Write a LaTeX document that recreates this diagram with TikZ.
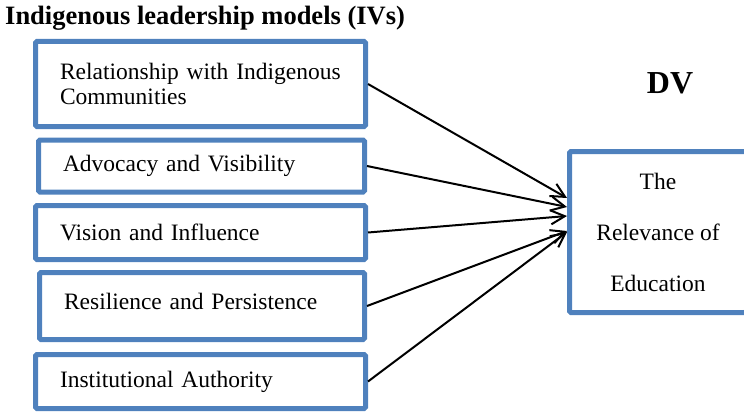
\documentclass[tikz,border=0pt]{standalone}
\usepackage{fontspec}
\setmainfont{Liberation Serif}
\usetikzlibrary{arrows.meta,calc}
\definecolor{boxblue}{HTML}{4F81BD}
\begin{document}
\begin{tikzpicture}[x=1pt,y=1pt,
  ivbox/.style={draw=boxblue,line width=5pt,rectangle,rounded corners=1.5pt,
    inner xsep=24.5pt,align=left,font=\fontsize{23.5}{25}\selectfont,
    text width=#1},
  dvbox/.style={draw=boxblue,line width=5pt,rectangle,rounded corners=1.5pt,
    align=center,font=\fontsize{23.5}{51}\selectfont},
  link/.style={line width=2pt,-{Straight Barb[length=14pt,width=14pt,line width=2pt]}},
  heading/.style={font=\bfseries\fontsize{26.5}{30}\selectfont,inner sep=0pt}
]
\useasboundingbox (0,0) rectangle (744,-412);
\clip (0,0) rectangle (744,-412);

% heading labels
\node[heading,anchor=west] (ivtitle) at (5,-18) {Indigenous leadership models (IVs)};
\node[heading,font=\bfseries\fontsize{32}{36}\selectfont,anchor=center] (dvtitle) at (670,-83) {DV};

% independent variable boxes
\node[ivbox=281pt,minimum width=330pt,minimum height=85pt] (rel) at (200.5,-84)
  {Relationship with Indigenous\\Communities};
\node[ivbox=277pt,minimum width=326pt,minimum height=52pt] (adv) at (201.5,-166)
  {Advocacy and Visibility};
\node[ivbox=281pt,minimum width=330pt,minimum height=54pt] (vis) at (200.5,-232.5)
  {Vision and Influence};
\node[ivbox=276pt,minimum width=325pt,minimum height=67pt] (res) at (202,-306)
  {\raisebox{10pt}{Resilience and Persistence}};
\node[ivbox=281pt,minimum width=330pt,minimum height=54pt] (ins) at (200.5,-381.5)
  {Institutional Authority};

% dependent variable box
\node[dvbox,minimum width=177pt,minimum height=161pt] (dv) at (658,-232)
  {The\\Relevance of\\Education};

% links from each model to the outcome
\draw[link] (rel.east) -- ($(dv.west)+(0,34)$);
\draw[link] (adv.east) -- ($(dv.west)+(0,25)$);
\draw[link] (vis.east) -- ($(dv.west)+(0,16)$);
\draw[link] (res.east) -- ($(dv.west)+(0,1)$);
\draw[link] (ins.east) -- ($(dv.west)+(0,0)$);
\end{tikzpicture}
\end{document}
